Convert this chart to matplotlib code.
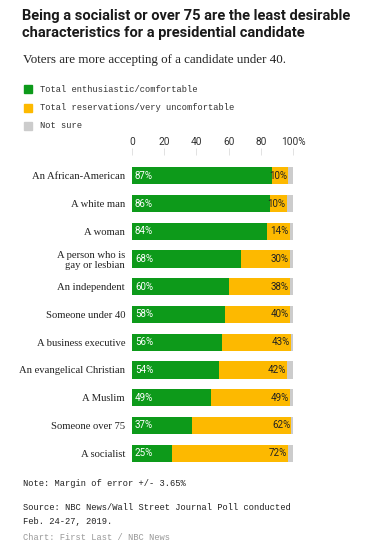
import matplotlib
matplotlib.use("Agg")
import matplotlib.pyplot as plt
from matplotlib.patches import Rectangle

# --- Data ---
categories = ["An African-American", "A white man", "A woman",
              "A person who is\ngay or lesbian", "An independent",
              "Someone under 40", "A business executive",
              "An evangelical Christian", "A Muslim", "Someone over 75",
              "A socialist"]
comfortable = [87, 86, 84, 68, 60, 58, 56, 54, 49, 37, 25]
reservations = [10, 10, 14, 30, 38, 40, 43, 42, 49, 62, 72]
not_sure = [100 - c - r for c, r in zip(comfortable, reservations)]
tick_values = [0, 20, 40, 60, 80, 100]
tick_labels = ["0", "20", "40", "60", "80", "100%"]
legend_labels = ["Total enthusiastic/comfortable",
                 "Total reservations/very uncomfortable", "Not sure"]

GREEN = "#0d9a1a"
ORANGE = "#fdb900"
GREY = "#cccccc"
colors = [GREEN, ORANGE, GREY]

W, H = 369, 550
fig = plt.figure(figsize=(W / 100, H / 100), dpi=100)
fig.patch.set_facecolor("white")

head = ["Roboto", "DejaVu Sans"]
serif = ["Liberation Serif", "DejaVu Serif"]
mono = ["Liberation Mono", "DejaVu Sans Mono"]
sans = ["Roboto", "DejaVu Sans"]


def fy(y):
    return 1 - y / H


# --- Titles ---
fig.text(22 / W, fy(9), "Being a socialist or over 75 are the least desirable\n"
         "characteristics for a presidential candidate",
         family=head, weight="bold", fontsize=10.5, va="top",
         color="#1a1a1a", linespacing=1.3)
fig.text(23 / W, fy(54), "Voters are more accepting of a candidate under 40.",
         family=serif, fontsize=9.4, va="top", color="#222222")

# --- Legend ---
for i, (lab, col) in enumerate(zip(legend_labels, colors)):
    y = 89 + i * 18.5
    fig.patches.append(Rectangle((24 / W, fy(y + 4)), 8 / W, 8 / H,
                                 transform=fig.transFigure, color=col))
    fig.text(40 / W, fy(y), lab, family=mono, fontsize=6.3, va="center",
             color="#333333")

# --- Bars ---
ax = fig.add_axes([132 / W, fy(467), 161 / W, (467 - 155) / H])
y = list(range(len(categories)))
ax.barh(y, comfortable, height=0.62, color=GREEN)
ax.barh(y, reservations, left=comfortable, height=0.62, color=ORANGE)
left3 = [c + r for c, r in zip(comfortable, reservations)]
ax.barh(y, not_sure, left=left3, height=0.62, color=GREY)

for i in y:
    ax.text(1.8, i, f"{comfortable[i]}%", color="white", fontsize=7,
            family=sans, va="center", ha="left")
    ax.text(left3[i] - 0.6, i, f"{reservations[i]}%", color="#222222",
            fontsize=7, family=sans, va="center", ha="right")

ax.set_xlim(0, 100)
ax.set_ylim(10.5, -0.75)
ax.set_yticks(y)
ax.set_yticklabels(categories, family=serif, fontsize=7.7, color="#222222",
                   linespacing=1.15)
ax.tick_params(axis="y", length=0, pad=5)
ax.xaxis.tick_top()
ax.set_xticks(tick_values)
ax.set_xticklabels(tick_labels, family=sans, fontsize=7.3, color="#333333")
ax.tick_params(axis="x", length=5, width=0.6, color="#dddddd", pad=1)
for s in ax.spines.values():
    s.set_visible(False)

# --- Notes ---
fig.text(23 / W, fy(484), "Note: Margin of error +/- 3.65%", family=mono,
         fontsize=6.3, va="center", color="#222222")
fig.text(23 / W, fy(508), "Source: NBC News/Wall Street Journal Poll conducted",
         family=mono, fontsize=6.3, va="center", color="#222222")
fig.text(23 / W, fy(522), "Feb. 24-27, 2019.", family=mono, fontsize=6.3,
         va="center", color="#222222")
fig.text(23 / W, fy(537), "Chart: First Last / NBC News", family=mono,
         fontsize=6.3, va="center", color="#999999")

fig.savefig("out.png", dpi=100)
